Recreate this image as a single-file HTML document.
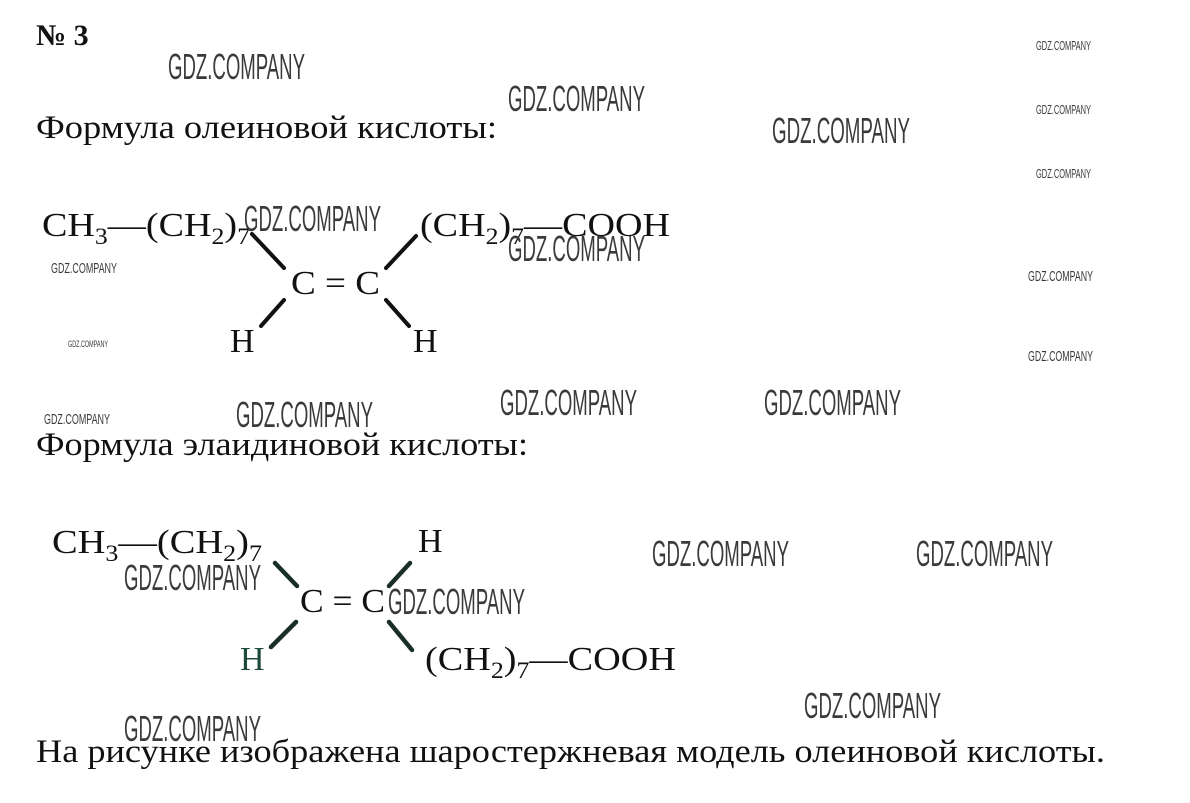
<!DOCTYPE html>
<html><head><meta charset="utf-8"><style>
html,body{margin:0;padding:0;background:#fff;}
svg{display:block}
.s{font-family:"Liberation Serif","DejaVu Serif",serif;fill:#111}
.w{font-family:"Liberation Sans","DejaVu Sans",sans-serif;fill:#3a3a3a}
</style></head><body>
<svg width="1190" height="803" viewBox="0 0 1190 803" xmlns="http://www.w3.org/2000/svg">
<text class="s" x="36" y="45" font-size="30" font-weight="bold">№ 3</text>
<text class="s" x="36" y="138" font-size="33" textLength="461" lengthAdjust="spacingAndGlyphs">Формула олеиновой кислоты:</text>
<text class="s" x="36" y="455" font-size="33" textLength="492" lengthAdjust="spacingAndGlyphs">Формула элаидиновой кислоты:</text>
<text class="s" x="36" y="762" font-size="33" textLength="1069" lengthAdjust="spacingAndGlyphs">На рисунке изображена шаростержневая модель олеиновой кислоты.</text>

<!-- top formula -->
<text class="s" x="42" y="236" font-size="34" textLength="208" lengthAdjust="spacingAndGlyphs">CH<tspan font-size="23" dy="8">3</tspan><tspan dy="-8">—(CH</tspan><tspan font-size="23" dy="8">2</tspan><tspan dy="-8">)</tspan><tspan font-size="23" dy="8">7</tspan></text>
<text class="s" x="420" y="236" font-size="34" textLength="250" lengthAdjust="spacingAndGlyphs">(CH<tspan font-size="23" dy="8">2</tspan><tspan dy="-8">)</tspan><tspan font-size="23" dy="8">7</tspan><tspan dy="-8">—COOH</tspan></text>
<text class="s" x="291" y="294" font-size="34" textLength="89" lengthAdjust="spacingAndGlyphs">C = C</text>
<text class="s" x="230" y="352" font-size="34">H</text>
<text class="s" x="413" y="352" font-size="34">H</text>
<g stroke="#111" stroke-width="4" stroke-linecap="round">
<line x1="252" y1="234" x2="284" y2="268"/>
<line x1="386" y1="268" x2="416" y2="236"/>
<line x1="284" y1="300" x2="261" y2="326"/>
<line x1="386" y1="300" x2="409" y2="326"/>
</g>

<!-- bottom formula -->
<text class="s" x="52" y="553" font-size="34" textLength="210" lengthAdjust="spacingAndGlyphs">CH<tspan font-size="23" dy="8">3</tspan><tspan dy="-8">—(CH</tspan><tspan font-size="23" dy="8">2</tspan><tspan dy="-8">)</tspan><tspan font-size="23" dy="8">7</tspan></text>
<text class="s" x="418" y="552" font-size="34">H</text>
<text class="s" x="300" y="612" font-size="34" textLength="85" lengthAdjust="spacingAndGlyphs">C = C</text>
<text class="s" x="240" y="670" font-size="34" style="fill:#1d4a3c">H</text>
<text class="s" x="425" y="670" font-size="34" textLength="251" lengthAdjust="spacingAndGlyphs">(CH<tspan font-size="23" dy="8">2</tspan><tspan dy="-8">)</tspan><tspan font-size="23" dy="8">7</tspan><tspan dy="-8">—COOH</tspan></text>
<g stroke="#1a2e28" stroke-width="4.5" stroke-linecap="round">
<line x1="275" y1="563" x2="297" y2="586"/>
<line x1="389" y1="586" x2="410" y2="563"/>
<line x1="296" y1="622" x2="271" y2="647"/>
<line x1="389" y1="622" x2="412" y2="650"/>
</g>

<!-- watermarks -->
<g class="w">
<text x="168" y="79" font-size="36" textLength="137" lengthAdjust="spacingAndGlyphs">GDZ.COMPANY</text>
<text x="508" y="111" font-size="36" textLength="137" lengthAdjust="spacingAndGlyphs">GDZ.COMPANY</text>
<text x="772" y="143" font-size="36" textLength="138" lengthAdjust="spacingAndGlyphs">GDZ.COMPANY</text>
<text x="1036" y="50" font-size="13" textLength="55" lengthAdjust="spacingAndGlyphs">GDZ.COMPANY</text>
<text x="1036" y="114" font-size="13" textLength="55" lengthAdjust="spacingAndGlyphs">GDZ.COMPANY</text>
<text x="1036" y="178" font-size="13" textLength="55" lengthAdjust="spacingAndGlyphs">GDZ.COMPANY</text>
<text x="244" y="231" font-size="36" textLength="137" lengthAdjust="spacingAndGlyphs">GDZ.COMPANY</text>
<text x="508" y="261" font-size="36" textLength="137" lengthAdjust="spacingAndGlyphs">GDZ.COMPANY</text>
<text x="51" y="273" font-size="15" textLength="66" lengthAdjust="spacingAndGlyphs">GDZ.COMPANY</text>
<text x="1028" y="281" font-size="15" textLength="65" lengthAdjust="spacingAndGlyphs">GDZ.COMPANY</text>
<text x="68" y="347" font-size="9" textLength="40" lengthAdjust="spacingAndGlyphs">GDZ.COMPANY</text>
<text x="1028" y="361" font-size="15" textLength="65" lengthAdjust="spacingAndGlyphs">GDZ.COMPANY</text>
<text x="44" y="424" font-size="15" textLength="66" lengthAdjust="spacingAndGlyphs">GDZ.COMPANY</text>
<text x="236" y="427" font-size="36" textLength="137" lengthAdjust="spacingAndGlyphs">GDZ.COMPANY</text>
<text x="500" y="415" font-size="36" textLength="137" lengthAdjust="spacingAndGlyphs">GDZ.COMPANY</text>
<text x="764" y="415" font-size="36" textLength="137" lengthAdjust="spacingAndGlyphs">GDZ.COMPANY</text>
<text x="652" y="566" font-size="36" textLength="137" lengthAdjust="spacingAndGlyphs">GDZ.COMPANY</text>
<text x="916" y="566" font-size="36" textLength="137" lengthAdjust="spacingAndGlyphs">GDZ.COMPANY</text>
<text x="124" y="590" font-size="36" textLength="137" lengthAdjust="spacingAndGlyphs">GDZ.COMPANY</text>
<text x="388" y="614" font-size="36" textLength="137" lengthAdjust="spacingAndGlyphs">GDZ.COMPANY</text>
<text x="804" y="718" font-size="36" textLength="137" lengthAdjust="spacingAndGlyphs">GDZ.COMPANY</text>
<text x="124" y="741" font-size="36" textLength="137" lengthAdjust="spacingAndGlyphs">GDZ.COMPANY</text>
</g>
</svg>
</body></html>
